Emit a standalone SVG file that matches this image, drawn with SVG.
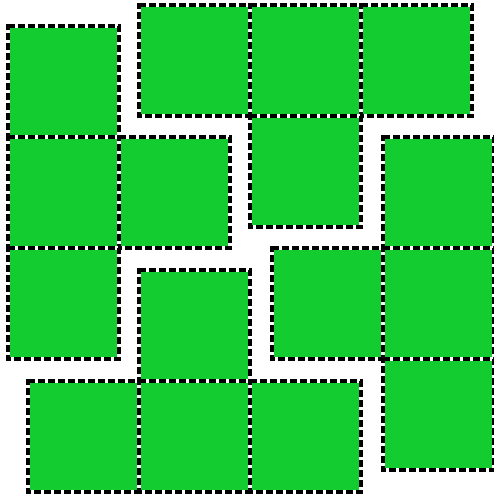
<svg xmlns="http://www.w3.org/2000/svg" width="494" height="497" viewBox="0 0 494 497">
<style>
.sq{fill:#12cc30;stroke:#ffffff;stroke-width:4}
.dash{fill:none;stroke:#000000;stroke-width:4;stroke-dasharray:7 3}
</style>
<defs>
<g id="tile"><rect class="sq" x="0" y="0" width="111" height="111"/><rect class="dash" x="0" y="0" width="111" height="111"/></g>
</defs>
<rect width="494" height="497" fill="#ffffff"/>
<g id="tiles">
<g id="t1"><use href="#tile" x="139" y="5"/></g>
<g id="t2"><use href="#tile" x="250" y="5"/></g>
<g id="t3"><use href="#tile" x="361" y="5"/></g>
<g id="t4"><use href="#tile" x="8" y="26"/></g>
<g id="t5"><use href="#tile" x="8" y="137"/></g>
<g id="t6"><use href="#tile" x="119" y="137"/></g>
<g id="t7"><use href="#tile" x="250" y="116"/></g>
<g id="t8"><use href="#tile" x="383" y="137"/></g>
<g id="t9"><use href="#tile" x="8" y="248"/></g>
<g id="t10"><use href="#tile" x="139" y="270"/></g>
<g id="t11"><use href="#tile" x="272" y="248"/></g>
<g id="t12"><use href="#tile" x="383" y="248"/></g>
<g id="t13"><use href="#tile" x="28" y="381"/></g>
<g id="t14"><use href="#tile" x="139" y="381"/></g>
<g id="t15"><use href="#tile" x="250" y="381"/></g>
<g id="t16"><use href="#tile" x="383" y="359"/></g>
</g>
</svg>
